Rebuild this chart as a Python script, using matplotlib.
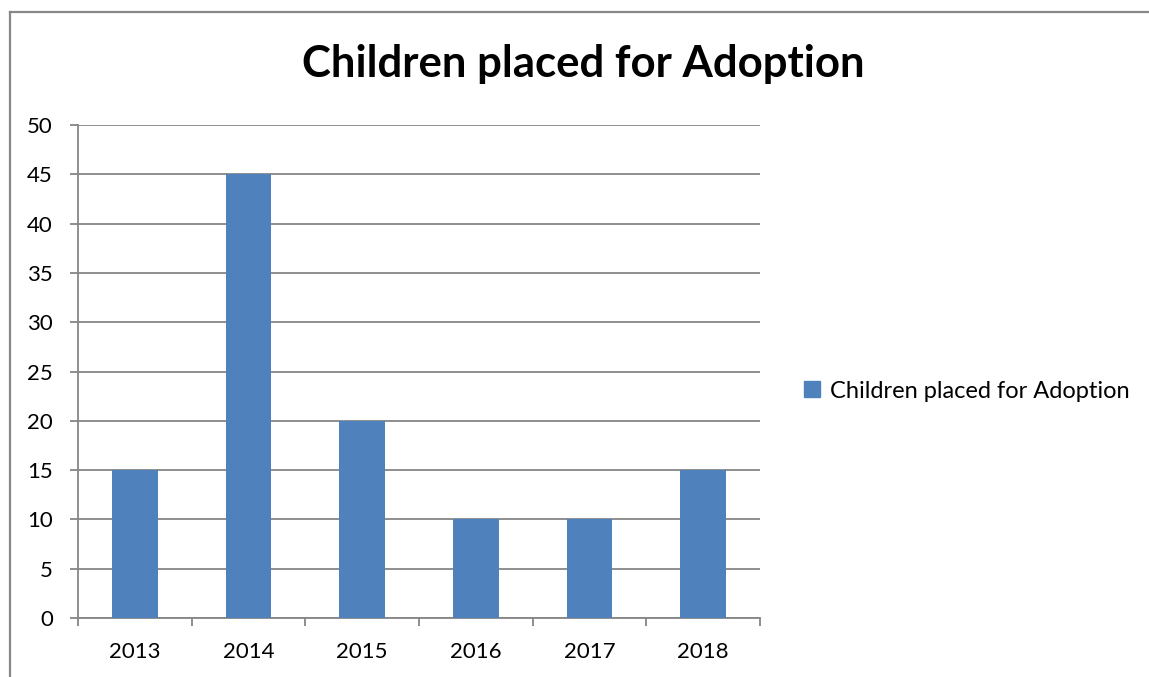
import matplotlib
matplotlib.use('Agg')
import matplotlib.pyplot as plt
from matplotlib.lines import Line2D
from matplotlib.patches import Patch

years = ['2013', '2014', '2015', '2016', '2017', '2018']
children = [15, 45, 20, 10, 10, 15]
series_name = 'Children placed for Adoption'

plt.rcParams['font.family'] = ['Lato', 'DejaVu Sans']

W, H = 1149, 677
fig = plt.figure(figsize=(W / 100, H / 100), dpi=100)
ax = fig.add_axes([78 / W, 1 - 618 / H, (760 - 78) / W, (618 - 125) / H])

x = range(len(years))
ax.bar(x, children, width=0.4, color='#4F81BD', zorder=3)

ax.set_xlim(-0.5, len(years) - 0.5)
ax.set_ylim(0, 50)
ax.set_yticks(range(0, 51, 5))
ax.yaxis.grid(True, color='#868686', lw=1.3, zorder=0)

ax.set_xticks(list(x))
ax.set_xticklabels(years)
ax.set_xticks([i - 0.5 for i in range(len(years) + 1)], minor=True)
ax.tick_params(axis='x', which='major', length=0, pad=17, labelsize=16)
ax.tick_params(axis='x', which='minor', length=6, color='#868686', width=1.3)
ax.tick_params(axis='y', length=6, color='#868686', width=1.3, pad=12, labelsize=16)

for s in ['top', 'right']:
    ax.spines[s].set_visible(False)
for s in ['left', 'bottom']:
    ax.spines[s].set_color('#868686')
    ax.spines[s].set_linewidth(1.3)

fig.text(583 / W, 1 - 64 / H, 'Children placed for Adoption', ha='center', va='center',
         fontsize=31.5, fontweight='bold')

ax.legend(handles=[Patch(color='#4F81BD', label=series_name)],
          loc='center left', bbox_to_anchor=(783 / W, 1 - 391 / H), bbox_transform=fig.transFigure,
          frameon=False, fontsize=17, handlelength=0.65, handleheight=0.65, handletextpad=0.45)

# chart border (left and top edges visible)
fig.add_artist(Line2D([10 / W, 10 / W], [-0.01, 1 - 12 / H], color='#888888', lw=1.6))
fig.add_artist(Line2D([10 / W, 1.01], [1 - 12 / H, 1 - 12 / H], color='#888888', lw=1.6))

fig.savefig('out.png', dpi=100)
